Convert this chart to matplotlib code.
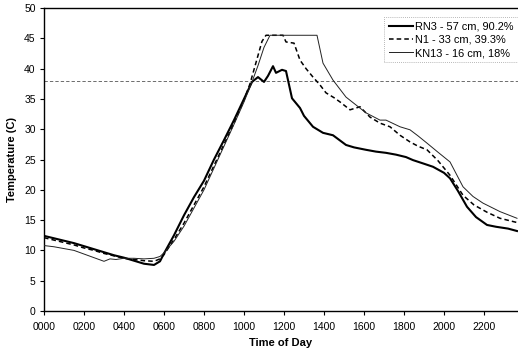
import matplotlib
matplotlib.use("Agg")
import matplotlib.pyplot as plt

plt.rcParams['font.family'] = ['Liberation Sans', 'DejaVu Sans']

# ---- data (hours of day, temperature in C) ----
rn3_t = [0.0, 0.5, 1.0, 1.5, 2.0, 2.5, 3.0, 3.5, 4.0, 4.5, 5.0, 5.5, 5.8, 6.0, 6.5, 7.0, 7.5,
         8.0, 8.5, 9.0, 9.5, 10.0, 10.4, 10.7, 11.0, 11.2, 11.45, 11.6, 11.9, 12.1, 12.4, 12.8,
         13.0, 13.45, 13.95, 14.45, 15.1, 15.5, 16.1, 16.6, 17.1, 17.6, 18.1, 18.45, 19.0, 19.45,
         20.0, 20.3, 20.7, 21.15, 21.6, 22.15, 22.6, 23.2, 23.65]
rn3_v = [12.4, 12.0, 11.6, 11.2, 10.7, 10.2, 9.7, 9.2, 8.8, 8.3, 7.8, 7.6, 8.2, 9.5, 12.5, 15.8, 18.8,
         21.5, 25.0, 28.2, 31.5, 35.0, 37.8, 38.6, 37.8, 38.8, 40.4, 39.3, 39.8, 39.6, 35.1, 33.5,
         32.2, 30.4, 29.4, 29.0, 27.4, 27.0, 26.6, 26.3, 26.1, 25.8, 25.4, 24.9, 24.3, 23.8,
         22.8, 21.9, 19.8, 17.2, 15.5, 14.2, 13.9, 13.6, 13.2]

n1_t = [0.0, 0.5, 1.0, 1.5, 2.0, 2.5, 3.0, 3.5, 4.0, 4.5, 5.0, 5.5, 5.8, 6.0, 6.5, 7.0, 7.5,
        8.0, 8.5, 9.0, 9.5, 10.0, 10.3, 10.6, 10.9, 11.1, 11.95, 12.1, 12.5, 12.8, 13.1, 13.45,
        13.8, 14.1, 14.5, 14.8, 15.3, 15.8, 16.3, 16.8, 17.3, 17.8, 18.3, 18.7, 19.15, 19.7,
        20.3, 20.95, 21.5, 22.15, 22.8, 23.65]
n1_v = [12.1, 11.7, 11.3, 10.9, 10.4, 10.0, 9.5, 9.1, 8.7, 8.5, 8.3, 8.2, 8.6, 9.3, 11.8, 14.5, 17.5,
        20.5, 24.0, 27.5, 31.0, 34.8, 37.5, 41.0, 44.5, 45.5, 45.5, 44.4, 44.2, 41.4, 40.0, 38.6,
        37.3, 36.0, 35.2, 34.5, 33.2, 33.7, 32.0, 31.0, 30.4, 29.0, 27.9, 27.2, 26.6, 24.8,
        22.4, 19.1, 17.5, 16.3, 15.3, 14.6]

kn13_t = [0.0, 0.5, 1.0, 1.5, 2.0, 2.5, 3.0, 3.3, 3.6, 4.0, 4.5, 5.0, 5.5, 5.8, 6.0, 6.5, 7.0,
          7.5, 8.0, 8.5, 9.0, 9.5, 10.0, 10.4, 10.7, 11.0, 11.3, 13.65, 13.95, 14.45, 15.1, 15.6,
          16.1, 16.8, 17.1, 17.8, 18.3, 18.7, 19.15, 19.7, 20.3, 20.95, 21.45, 21.95, 22.8, 23.65]
kn13_v = [10.8, 10.6, 10.3, 10.0, 9.4, 8.8, 8.2, 8.6, 8.5, 8.7, 8.7, 8.6, 8.7, 9.0, 9.6, 11.5, 14.0,
          17.0, 20.0, 23.6, 27.2, 30.8, 34.5, 37.8, 40.5, 43.5, 45.5, 45.5, 40.9, 38.1, 35.3, 34.0,
          32.7, 31.5, 31.5, 30.4, 29.9, 28.9, 27.7, 26.2, 24.6, 20.5, 18.9, 17.8, 16.4, 15.3]

labels = ["RN3 - 57 cm, 90.2%", "N1 - 33 cm, 39.3%", "KN13 - 16 cm, 18%"]
ref_level = 38
xticks = [0, 2, 4, 6, 8, 10, 12, 14, 16, 18, 20, 22]
xticklabels = ["0000", "0200", "0400", "0600", "0800", "1000", "1200", "1400", "1600",
               "1800", "2000", "2200"]
yticks = [0, 5, 10, 15, 20, 25, 30, 35, 40, 45, 50]

fig = plt.figure(figsize=(5.18, 3.55), dpi=100)
ax = fig.add_axes([44 / 518, 44 / 355, 1 - 44 / 518, (311 - 8) / 355])

ax.axhline(ref_level, color='#555555', lw=0.6, ls=(0, (4, 2.5)), zorder=1)
ax.plot(rn3_t, rn3_v, color='black', lw=1.5, label=labels[0], zorder=3)
ax.plot(n1_t, n1_v, color='black', lw=1.1, ls=(0, (3, 2)), label=labels[1], zorder=3)
ax.plot(kn13_t, kn13_v, color='#222222', lw=0.7, label=labels[2], zorder=3)

ax.set_xlim(0, 23.7)
ax.set_ylim(0, 50)
ax.set_xticks(xticks)
ax.set_xticklabels(xticklabels)
ax.set_yticks(yticks)
ax.tick_params(axis='both', labelsize=7.5, length=3, width=0.8, direction='out', pad=5)
ax.tick_params(axis='y', pad=3)
for s in ['left', 'bottom', 'top']:
    ax.spines[s].set_linewidth(1.0)
ax.spines['right'].set_visible(False)

ax.set_xlabel("Time of Day", fontsize=8, fontweight='bold', labelpad=4)
ax.set_ylabel("Temperature (C)", fontsize=8, fontweight='bold', labelpad=5)

leg = ax.legend(loc='upper right', bbox_to_anchor=(1.0, 0.97), fontsize=7.9, frameon=True,
                fancybox=False, handlelength=2.2, handletextpad=0.2, borderpad=0.4,
                labelspacing=0.3, borderaxespad=0.0)
leg.get_frame().set_edgecolor('#888888')
leg.get_frame().set_linestyle((0, (1, 1.5)))
leg.get_frame().set_linewidth(0.6)

fig.savefig("out.png", dpi=100)
